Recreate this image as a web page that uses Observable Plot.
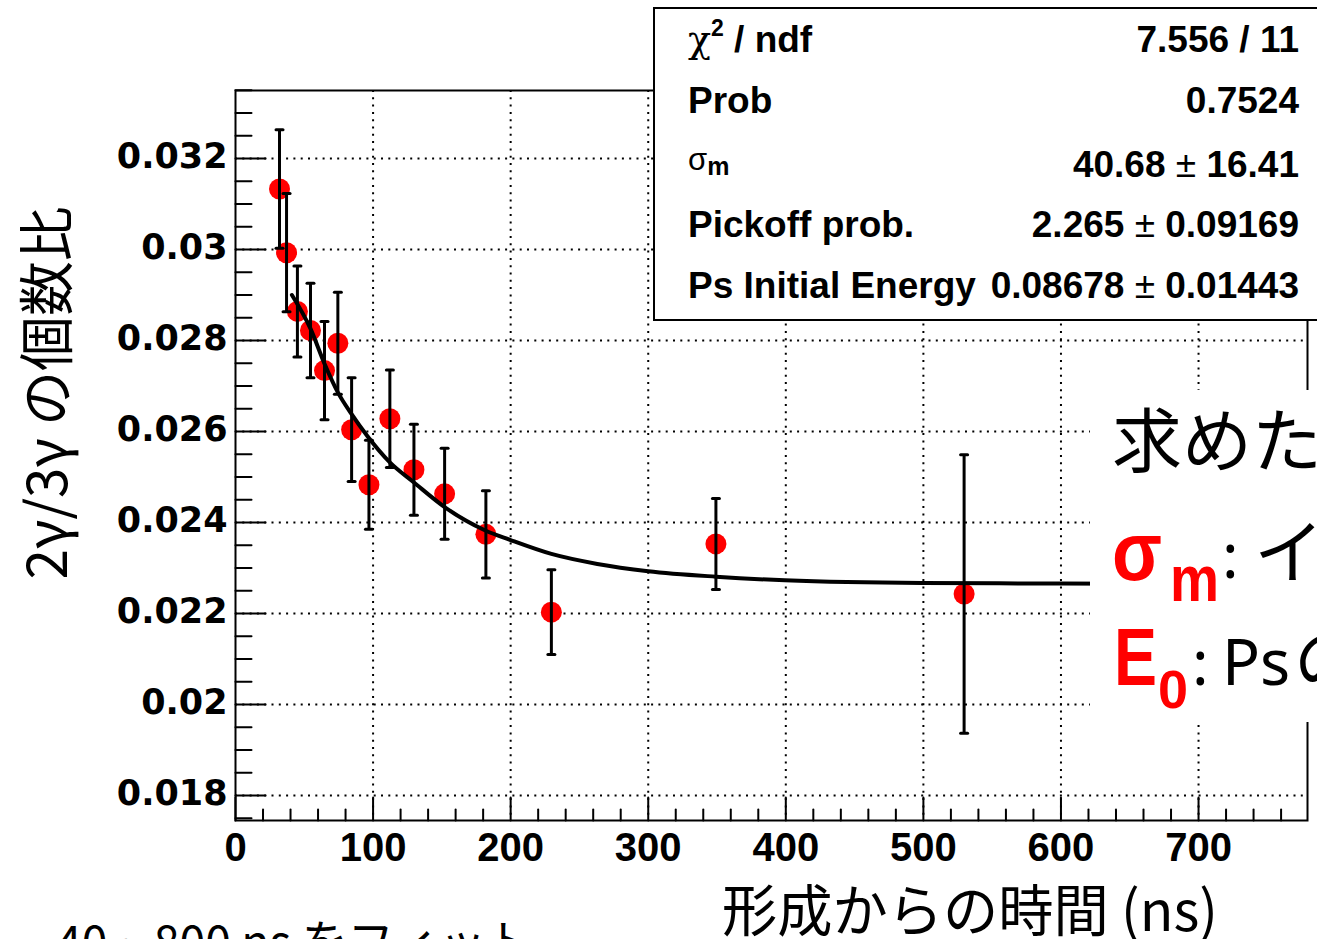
<!DOCTYPE html>
<html><head><meta charset="utf-8">
<script src="https://cdn.jsdelivr.net/npm/d3@7"></script>
<script src="https://cdn.jsdelivr.net/npm/@observablehq/plot@0.6"></script>
<style>
html,body{margin:0;padding:0;background:#fff;overflow:hidden;}
#chart{position:relative;width:1317px;height:939px;overflow:hidden;background:#fff;}
#chart svg{display:block;}
</style></head><body><div id="chart"></div>
<script>
// ---- data ----
const times  = [32, 37.1, 45, 54.5, 64.7, 74.4, 84.4, 97, 112.2, 129.7, 152, 182, 229.6, 349.2, 529.6];
const ratios = [0.03133, 0.02993, 0.02864, 0.02822, 0.02734, 0.02794, 0.02604, 0.02483, 0.02628, 0.02516, 0.02463, 0.02374, 0.02203, 0.02353, 0.02243];
const errors = [0.0013, 0.0013, 0.0010, 0.00104, 0.00108, 0.00112, 0.00114, 0.00098, 0.00107, 0.0010, 0.0010, 0.00096, 0.00093, 0.0010, 0.00306];
const fitT = [41, 54.5, 64.7, 74.4, 84.4, 95.8, 112.2, 129.7, 152, 182, 199.5, 229.6, 263, 300, 349.2, 399.3, 499.3, 599.6, 700, 800];
const fitV = [0.02900, 0.02826, 0.02749, 0.02686, 0.02638, 0.02590, 0.02532, 0.02488, 0.02434, 0.02382, 0.02362, 0.02331, 0.02309, 0.02293, 0.02281, 0.02273, 0.02267, 0.02266, 0.02265, 0.02264];
const xTicks = [0, 100, 200, 300, 400, 500, 600, 700];
const xTickLabels = ["0", "100", "200", "300", "400", "500", "600", "700"];
const yTicks = [0.018, 0.020, 0.022, 0.024, 0.026, 0.028, 0.030, 0.032];
const yTickLabels = ["0.018", "0.02", "0.022", "0.024", "0.026", "0.028", "0.03", "0.032"];
const statLabels = ["χ2 / ndf", "Prob", "σm", "Pickoff prob.", "Ps Initial Energy"];
const statValues = ["7.556 / 11", "0.7524", "40.68 ± 16.41", "2.265 ± 0.09169", "0.08678 ± 0.01443"];
const xTitle = "形成からの時間 (ns)";
const yTitle = "2γ/3γ の個数比";
const noteLines = ["求めた", "σ", "m", ":", "イ", "E", "0", ":", "Ps", "の"];
const bottomNote = "40 ~ 800 ns をフィット";

const pts = times.map((t, i) => ({t, v: ratios[i], e: errors[i]}));
const fit = fitT.map((t, i) => ({t, v: fitV[i]}));
const xMinor = d3.range(0, 780, 20).filter(d => d % 100 !== 0);
const yMinor = d3.range(0, 33).map(i => +(0.0175 + i * 0.0005).toFixed(5)).filter(d => Math.round(d * 10000) % 20 !== 0);

const hLine = {draw(c, l) { c.moveTo(0, 0); c.lineTo(l, 0); }};
const vUp = {draw(c, l) { c.moveTo(0, 0); c.lineTo(0, -l); }};
const cap = {draw(c, l) { c.moveTo(-l / 2, 0); c.lineTo(l / 2, 0); }};
const grid = {stroke: "black", strokeOpacity: 1, strokeWidth: 2, strokeDasharray: "2,5.3"};

const plot = Plot.plot({
  width: 1317, height: 939,
  marginLeft: 235, marginRight: 10, marginTop: 90, marginBottom: 119,
  x: {domain: [0, 779.2], axis: null},
  y: {domain: [0.017451, 0.033495], axis: null},
  style: {background: "white", fontFamily: "Liberation Sans, Arial, sans-serif", overflow: "visible"},
  marks: [
    Plot.gridX(xTicks.slice(1), grid),
    Plot.gridY(yTicks, grid),
    Plot.vector(yMinor, {y: d => d, frameAnchor: "left", length: 16, anchor: "start", shape: hLine, stroke: "black", strokeWidth: 2}),
    Plot.vector(yTicks, {y: d => d, frameAnchor: "left", length: 30, anchor: "start", shape: hLine, stroke: "black", strokeWidth: 2}),
    Plot.vector(xMinor, {x: d => d, frameAnchor: "bottom", length: 11, anchor: "start", shape: vUp, stroke: "black", strokeWidth: 2}),
    Plot.vector(xTicks, {x: d => d, frameAnchor: "bottom", length: 23, anchor: "start", shape: vUp, stroke: "black", strokeWidth: 2}),
    Plot.frame({stroke: "black", strokeWidth: 2}),
    Plot.text(yTicks, {y: d => d, text: (d, i) => yTickLabels[i], frameAnchor: "left", textAnchor: "end", lineAnchor: "middle", dx: -8, dy: -2,
      fontSize: 35, fontWeight: "bold", fontFamily: "DejaVu Sans", fill: "black"}),
    Plot.text(xTicks, {x: d => d, text: (d, i) => xTickLabels[i], frameAnchor: "bottom", lineAnchor: "middle", dy: 28,
      fontSize: 40, fontWeight: "bold", fontFamily: "Liberation Sans", fill: "black"}),
    Plot.dot(pts, {x: "t", y: "v", r: 10.5, fill: "red"}),
    Plot.ruleX(pts, {x: "t", y1: d => d.v - d.e, y2: d => d.v + d.e, stroke: "black", strokeWidth: 3}),
    Plot.vector(pts, {x: "t", y: d => d.v + d.e, length: 7, anchor: "start", shape: cap, stroke: "black", strokeWidth: 3}),
    Plot.vector(pts, {x: "t", y: d => d.v - d.e, length: 7, anchor: "start", shape: cap, stroke: "black", strokeWidth: 3}),
    Plot.line(fit, {x: "t", y: "v", stroke: "black", strokeWidth: 4, curve: "monotone-x", clip: true})
  ]
});
document.getElementById("chart").appendChild(plot);

const svg = d3.select(plot);
const cjk = "Noto Sans CJK JP";
function txt(parent, x, y, s, o) {
  const t = parent.append("text").attr("x", x).attr("y", y).attr("text-anchor", o.anchor || "start")
    .attr("font-family", o.fam || cjk).attr("font-size", o.size).attr("fill", o.fill || "black")
    .attr("font-weight", o.w || "normal").text(s);
  if (o.len) t.attr("textLength", o.len).attr("lengthAdjust", "spacingAndGlyphs");
  return t;
}

// axis titles
svg.append("text").attr("transform", "translate(42,393) rotate(-90)")
  .attr("text-anchor", "middle").attr("dominant-baseline", "central")
  .attr("font-family", cjk).attr("font-size", 56).attr("fill", "black")
  .attr("textLength", 373).attr("lengthAdjust", "spacingAndGlyphs").text(yTitle);
txt(svg, 722, 931, xTitle, {size: 56, len: 496});

// bottom note (clipped by page edge)
txt(svg, 56, 960, bottomNote, {size: 48, len: 476});

// stat box
const sb = svg.append("g").attr("font-family", "Liberation Sans, Arial, sans-serif").attr("font-weight", "bold").attr("font-size", 37).attr("fill", "black");
sb.append("rect").attr("x", 654).attr("y", 8).attr("width", 720).attr("height", 312)
  .attr("fill", "white").attr("stroke", "black").attr("stroke-width", 2);
const baselines = [52, 113, 177, 237, 298];
function seg(parent, x, y, parts, anchor) {
  const t = parent.append("text").attr("x", x).attr("y", y).attr("text-anchor", anchor || "start");
  for (const p of parts) {
    const s = t.append("tspan").text(p.t);
    if (p.size) s.attr("font-size", p.size);
    if (p.w) s.attr("font-weight", p.w);
    if (p.dy) s.attr("dy", p.dy);
    if (p.fam) s.attr("font-family", p.fam);
  }
  return t;
}
seg(sb, 688, baselines[0], [{t: statLabels[0][0], w: "normal", size: 38, fam: "DejaVu Serif"}, {t: statLabels[0][1], size: 23, dy: -16}, {t: statLabels[0].slice(2), dy: 16}]);
seg(sb, 688, baselines[1], [{t: statLabels[1]}]);
seg(sb, 688, 170, [{t: statLabels[2][0], w: "normal", size: 31}, {t: statLabels[2][1], size: 25, dy: 5}]);
seg(sb, 688, baselines[3], [{t: statLabels[3]}]);
seg(sb, 688, baselines[4], [{t: statLabels[4]}]);
statValues.forEach((v, i) => {
  const parts = v.split("±");
  const arr = parts.length === 2 ? [{t: parts[0]}, {t: "±", w: "normal"}, {t: parts[1]}] : [{t: v}];
  seg(sb, 1299, baselines[i], arr, "end");
});

// white overlay with slide text
const ov = svg.append("g");
ov.append("rect").attr("x", 1090).attr("y", 390).attr("width", 260).attr("height", 332).attr("fill", "white");
txt(ov, 1112, 467, noteLines[0], {size: 70});
txt(ov, 1112, 580, noteLines[1], {fam: "Liberation Sans", w: "bold", size: 84, fill: "red", len: 50});
txt(ov, 1170, 601, noteLines[2], {fam: "Liberation Sans", w: "bold", size: 65, fill: "red", len: 49});
txt(ov, 1222, 578, noteLines[3], {fam: "Noto Sans", size: 62});
txt(ov, 1254, 578, noteLines[4], {size: 70});
txt(ov, 1114, 685, noteLines[5], {fam: "Liberation Sans", w: "bold", size: 81, fill: "red", len: 43});
txt(ov, 1158, 708, noteLines[6], {fam: "Liberation Sans", w: "bold", size: 54, fill: "red"});
txt(ov, 1192, 685, noteLines[7], {fam: "Noto Sans", size: 62});
txt(ov, 1222, 685, noteLines[8], {fam: "Noto Sans", size: 63});
txt(ov, 1294, 685, noteLines[9], {size: 70});
</script>
</body></html>
